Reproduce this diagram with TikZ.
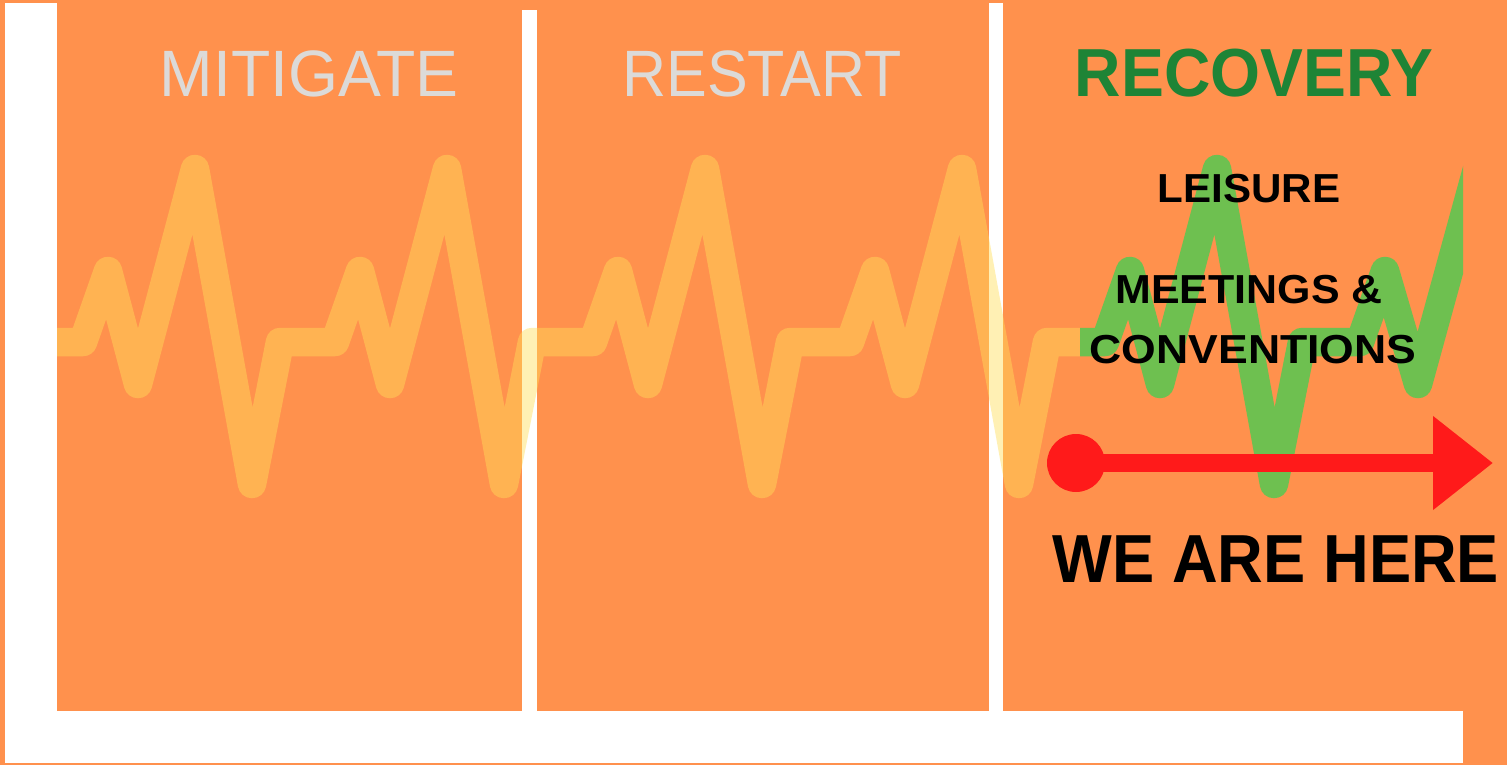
\documentclass[tikz,border=0pt]{standalone}
\usepackage{fontspec}
\usepackage{graphicx}
\setmainfont{Liberation Sans}
\usetikzlibrary{arrows.meta}
\definecolor{bgorange}{HTML}{FF914D}
\definecolor{waveyellow}{HTML}{FFDE59}
\definecolor{wavegreen}{HTML}{6EC050}
\definecolor{headgreen}{HTML}{1E8436}
\definecolor{headgray}{HTML}{DCDAD8}
\definecolor{arrowred}{HTML}{FF1A1A}
\begin{document}
\begin{tikzpicture}[x=1pt,y=-1pt,
  heading/.style={anchor=base, inner sep=0pt, font=\fontsize{65.6}{70}\selectfont},
  boldheading/.style={anchor=base, inner sep=0pt, font=\bfseries\fontsize{68}{72}\selectfont},
  sectorlabel/.style={anchor=base, inner sep=0pt, font=\bfseries\fontsize{40.5}{44}\selectfont, text=black},
  wave/.style={line width=28.5pt, line join=round, line cap=butt},
  whitebar/.style={fill=white, draw=none}]
\useasboundingbox (0,0) rectangle (1507,765);
% background
\fill[bgorange] (0,0) rectangle (1507,765);
% white axis and dividers
\fill[whitebar] (5,3) rectangle (57,763);
\fill[whitebar] (5,711) rectangle (1463,763);
\fill[whitebar] (522,10) rectangle (537,711);
\fill[whitebar] (989,3) rectangle (1003,711);
% past heartbeat (yellow, translucent)
\draw[wave, draw=waveyellow, draw opacity=0.45]
  (57,342) -- (83,342) -- (108,271) -- (138,384) -- (195,169) -- (252,484) -- (280,342)
  -- (335,342) -- (360,271) -- (390,384) -- (447,169) -- (504,484) -- (532,342)
  -- (593,342) -- (618,271) -- (648,384) -- (705,169) -- (762,484) -- (790,342)
  -- (850,342) -- (875,271) -- (905,384) -- (962,169) -- (1019,484) -- (1047,342)
  -- (1080,342);
% recovery heartbeat (green), cut off at the right
\begin{scope}
  \clip (1075,100) rectangle (1463,520);
  \draw[wave, draw=wavegreen]
    (1080,342) -- (1105,342) -- (1130,271) -- (1160,384) -- (1217,169) -- (1274,484)
    -- (1302,342) -- (1360,342) -- (1385,271) -- (1418,384) -- (1496,100);
\end{scope}
% red arrow
\node[circle, fill=arrowred, minimum size=58pt, inner sep=0pt] (dot) at (1076,463) {};
\coordinate (tip) at (1493,463);
\draw[arrowred, line width=18pt, -{Triangle[length=60pt,width=90pt]}] (dot.center) -- (tip);
% headings
\node[heading, text=headgray] (mitigate) at (309,97) {\scalebox{0.98}[1]{MITIGATE}};
\node[heading, text=headgray] (restart) at (762,97) {\scalebox{0.93}[1]{RESTART}};
\node[boldheading, text=headgreen] (recovery) at (1254,97) {\scalebox{0.945}[1]{RECOVERY}};
% sector labels
\node[sectorlabel] (leisure) at (1249,202) {\scalebox{1.04}[1]{LEISURE}};
\node[sectorlabel] (meetings) at (1249,303) {\scalebox{1.06}[1]{MEETINGS \&}};
\node[sectorlabel] (conventions) at (1253,363) {\scalebox{1.1}[1]{CONVENTIONS}};
\node[boldheading, text=black] (here) at (1276,582) {\scalebox{0.93}[1]{WE ARE HERE}};
\end{tikzpicture}
\end{document}
